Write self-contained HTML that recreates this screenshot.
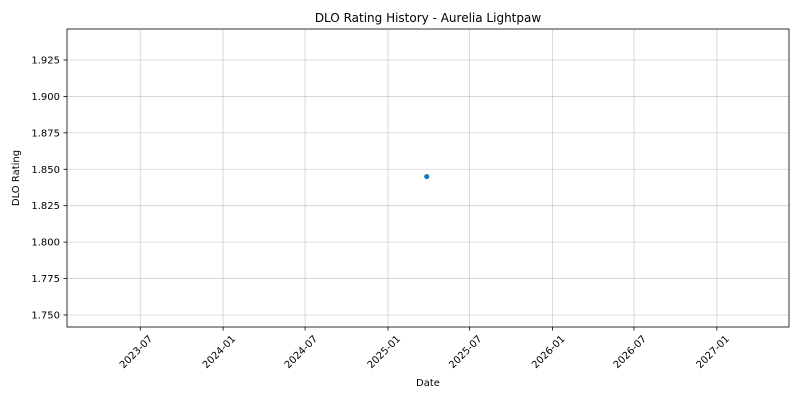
<!DOCTYPE html>
<html><head><meta charset="utf-8"><style>
body{margin:0;background:#fff;}
svg{display:block;font-family:"DejaVu Sans","Liberation Sans",sans-serif;}
</style></head><body>
<svg id="chart" width="800" height="400">
<rect width="800" height="400" fill="#fff"/>
<text x="428" y="22" font-size="12" text-anchor="middle">DLO Rating History - Aurelia Lightpaw</text>
<g id="grid"></g><g id="axes"></g><g id="marks"></g>
<rect x="67" y="29" width="722" height="298" fill="none" stroke="#000" stroke-width="0.8"/>
<text x="428" y="386" font-size="10" text-anchor="middle">Date</text>
<text transform="translate(19,178) rotate(-90)" font-size="10" text-anchor="middle">DLO Rating</text>
</svg>
<script>
const xTickLabels=["2023-07","2024-01","2024-07","2025-01","2025-07","2026-01","2026-07","2027-01"];
const yTickValues=[1.750,1.775,1.800,1.825,1.850,1.875,1.900,1.925];
const pointDates=["2025-03-28"];
const pointRatings=[1.845];
const NS="http://www.w3.org/2000/svg";
const refDay=Date.UTC(2025,0,1);
function xs(d){const t=Date.parse(d+(d.length===7?"-01":"")+"T00:00:00Z");return 388+(t-refDay)/86400000*0.4505;}
function ys(v){return 315-(v-1.75)/0.025*36.43;}
function mk(tag,attrs,parent){const e=document.createElementNS(NS,tag);for(const k in attrs)e.setAttribute(k,attrs[k]);parent.appendChild(e);return e;}
const grid=document.getElementById('grid'),axes=document.getElementById('axes'),marks=document.getElementById('marks');
xTickLabels.forEach(l=>{const x=xs(l);
const g=mk('line',{x1:x,x2:x,y1:29,y2:327,stroke:'#b0b0b0','stroke-width':0.8,'stroke-opacity':0.6},grid);


const t=mk('line',{x1:x,x2:x,y1:327,y2:330.5,stroke:'#000','stroke-width':0.8},axes);


const tx=mk('text',{transform:`translate(${x-4},${352}) rotate(-45)`,'font-size':10,'text-anchor':'middle','dominant-baseline':'middle'},axes);
tx.textContent=l;


});
yTickValues.forEach(v=>{const y=ys(v);
const g=mk('line',{x1:67,x2:789,y1:y,y2:y,stroke:'#b0b0b0','stroke-width':0.8,'stroke-opacity':0.6},grid);


const t=mk('line',{x1:63.5,x2:67,y1:y,y2:y,stroke:'#000','stroke-width':0.8},axes);


const tx=mk('text',{x:60,y:y+3.5,'font-size':10,'text-anchor':'end'},axes);
tx.textContent=v.toFixed(3);


});
pointDates.forEach((d,i)=>{
const c=mk('circle',{cx:xs(d),cy:ys(pointRatings[i]),r:2.6,fill:'#1f77b4'},marks);


});
</script>
</body></html>
